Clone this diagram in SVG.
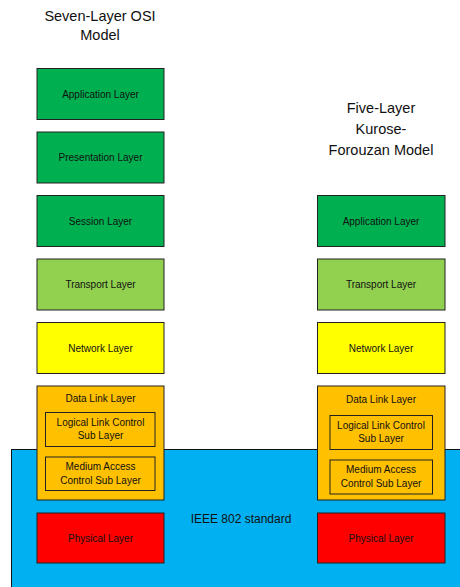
<svg xmlns="http://www.w3.org/2000/svg" width="460" height="587" viewBox="0 0 460 587">
<style>
text{font-family:"Liberation Sans",Arial,sans-serif;fill:#111;text-anchor:middle}
.t{font-size:14.5px}
.b{font-size:10px}
.box{stroke:#222;stroke-width:1}
.dg{fill:#00B050}.lg{fill:#92D050}.ye{fill:#FFFF00}.or{fill:#FFC000}.rd{fill:#FF0000}
</style>
<rect width="460" height="587" fill="#fff"/>
<g id="ieee">
<rect x="11.5" y="449.5" width="460" height="150" fill="#00B0F0" stroke="#111" stroke-width="1"/>
<text x="241" y="523" style="font-size:12px">IEEE 802 standard</text>
</g>
<g id="title-osi"><text class="t" x="100" y="21">Seven-Layer OSI</text><text class="t" x="100" y="40">Model</text></g>
<g id="title-kf"><text class="t" x="381" y="113">Five-Layer</text><text class="t" x="381" y="134">Kurose-</text><text class="t" x="381" y="155">Forouzan Model</text></g>
<g id="osi-app"><rect class="box dg" x="37" y="68.5" width="127" height="51"/><text class="b" x="100.5" y="97.5">Application Layer</text></g>
<g id="osi-pres"><rect class="box dg" x="37" y="132" width="127" height="51"/><text class="b" x="100.5" y="161">Presentation Layer</text></g>
<g id="osi-sess"><rect class="box dg" x="37" y="195.5" width="127" height="51"/><text class="b" x="100.5" y="224.5">Session Layer</text></g>
<g id="osi-trans"><rect class="box lg" x="37" y="259" width="127" height="51"/><text class="b" x="100.5" y="288">Transport Layer</text></g>
<g id="osi-net"><rect class="box ye" x="37" y="322.5" width="127" height="51"/><text class="b" x="100.5" y="351.5">Network Layer</text></g>
<g id="osi-dl"><rect class="box or" x="37" y="386" width="127" height="114"/><text class="b" x="100.5" y="402">Data Link Layer</text>
<rect class="box or" x="45.5" y="412.5" width="109.5" height="34"/><text class="b" x="100.5" y="426">Logical Link Control</text><text class="b" x="100.5" y="439">Sub Layer</text>
<rect class="box or" x="45.5" y="457" width="109.5" height="33.5"/><text class="b" x="100.5" y="470">Medium Access</text><text class="b" x="100.5" y="483.5">Control Sub Layer</text></g>
<g id="osi-phy"><rect class="box rd" x="37" y="513" width="127" height="50"/><text class="b" x="100.5" y="541.5">Physical Layer</text></g>
<g id="kf-app"><rect class="box dg" x="317.5" y="195.5" width="127.5" height="51"/><text class="b" x="381" y="224.5">Application Layer</text></g>
<g id="kf-trans"><rect class="box lg" x="317.5" y="259" width="127.5" height="51"/><text class="b" x="381" y="288">Transport Layer</text></g>
<g id="kf-net"><rect class="box ye" x="317.5" y="322.5" width="127.5" height="51"/><text class="b" x="381" y="351.5">Network Layer</text></g>
<g id="kf-dl"><rect class="box or" x="317.5" y="386" width="127.5" height="114"/><text class="b" x="381" y="403">Data Link Layer</text>
<rect class="box or" x="330" y="415.5" width="102.5" height="34"/><text class="b" x="381" y="428.5">Logical Link Control</text><text class="b" x="381" y="441.5">Sub Layer</text>
<rect class="box or" x="330" y="460" width="102.5" height="34"/><text class="b" x="381" y="472.5">Medium Access</text><text class="b" x="381" y="486.5">Control Sub Layer</text></g>
<g id="kf-phy"><rect class="box rd" x="317.5" y="513" width="127.5" height="50"/><text class="b" x="381" y="541.5">Physical Layer</text></g>
<g id="connectors"/>
</svg>
